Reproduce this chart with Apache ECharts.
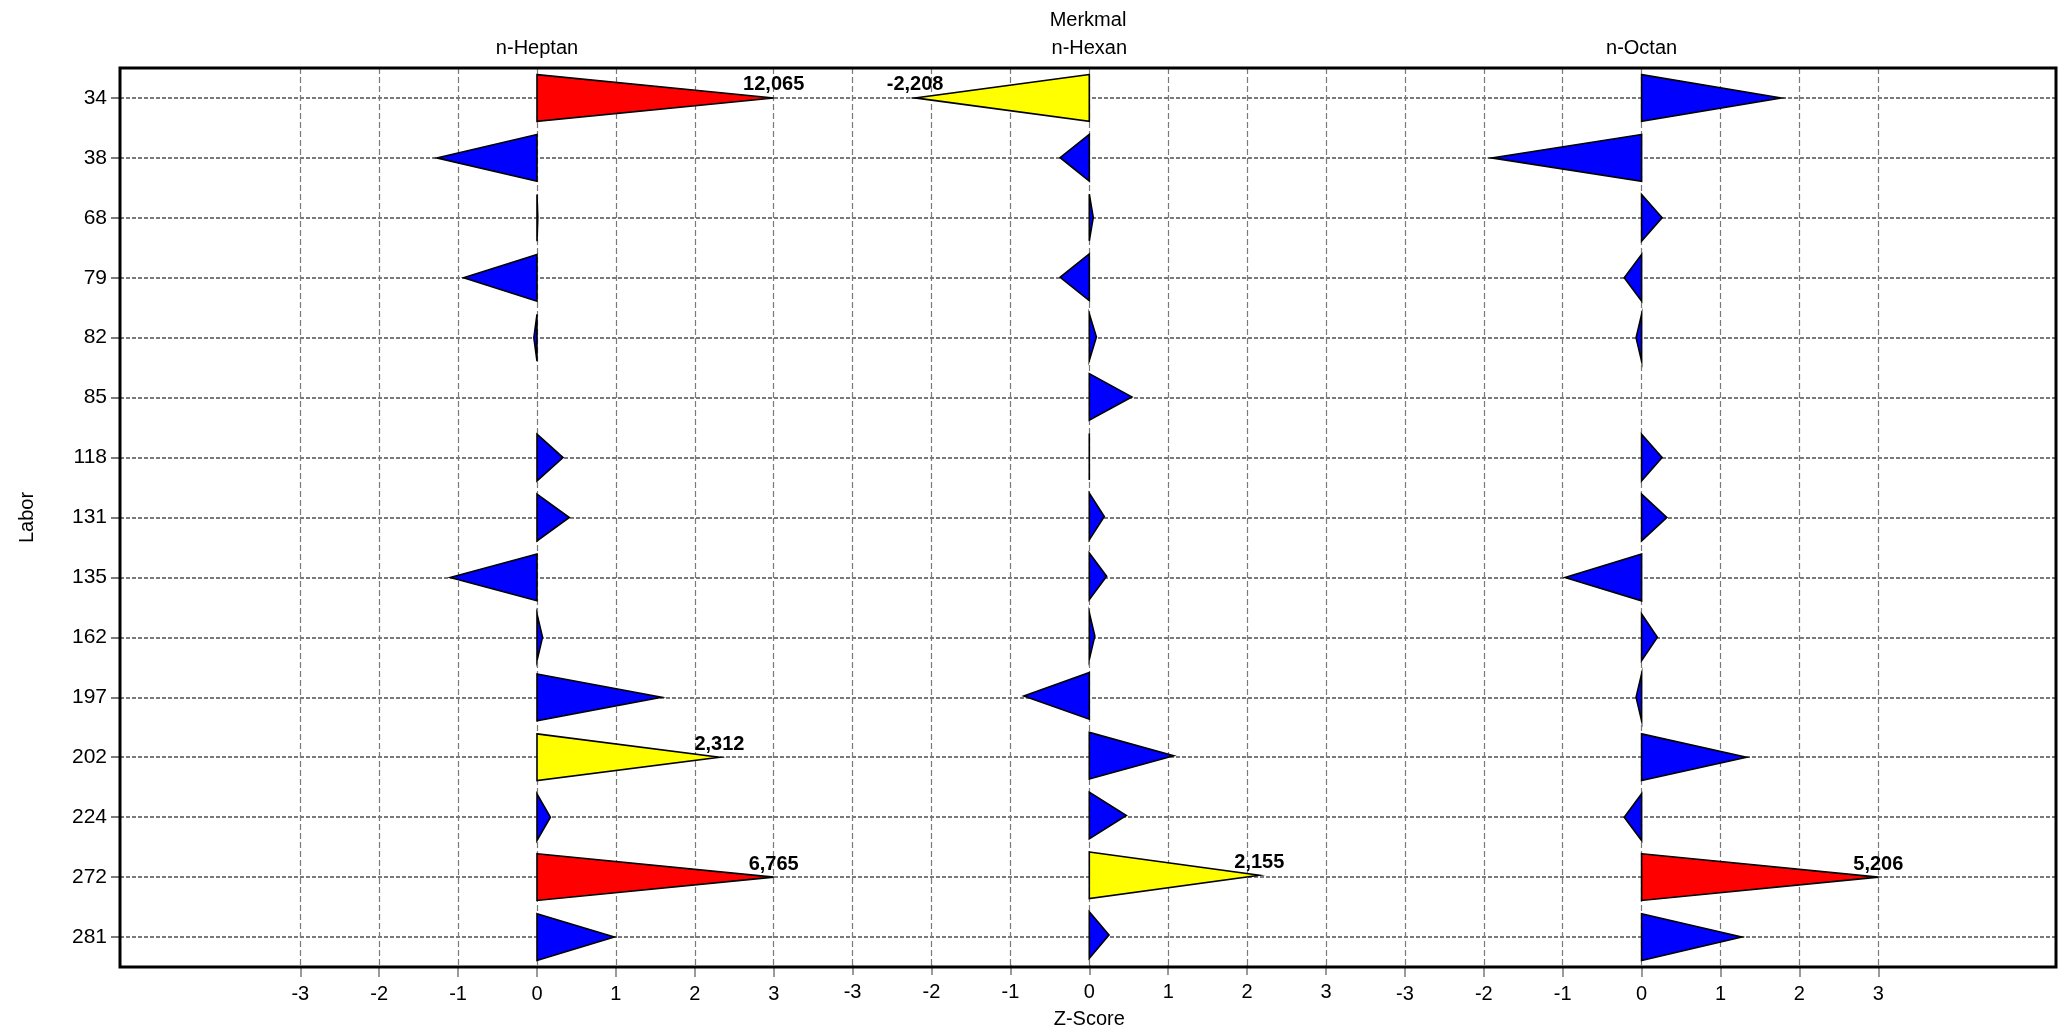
<!DOCTYPE html>
<html>
<head>
<meta charset="utf-8">
<script src="https://cdn.jsdelivr.net/npm/echarts@6/dist/echarts.min.js"></script>
<style>
html,body{margin:0;padding:0;background:#fff;}
#chart{width:2060px;height:1034px;}
</style>
</head>
<body>
<div id="chart"></div>
<script>
// ---- data ----
const categories = ['34','38','68','79','82','85','118','131','135','162','197','202','224','272','281'];
const features = ['n-Heptan','n-Hexan','n-Octan'];
const heptan = [12.065, -1.27, 0.01, -0.93, -0.04, null, 0.33, 0.41, -1.10, 0.07, 1.58, 2.312, 0.17, 6.765, 0.98];
const hexan  = [-2.208, -0.37, 0.05, -0.37, 0.09, 0.54, 0.00, 0.19, 0.22, 0.07, -0.83, 1.07, 0.47, 2.155, 0.25];
const octan  = [1.77, -1.90, 0.26, -0.22, -0.07, null, 0.26, 0.32, -0.97, 0.20, -0.07, 1.33, -0.22, 5.206, 1.27];
const seriesValues = [heptan, hexan, octan];
const xTicks = [-3, -2, -1, 0, 1, 2, 3];

const FONT = 'Liberation Sans, Arial, sans-serif';
const GRID_COLOR = '#7a7a7a';

const chart = echarts.init(document.getElementById('chart'));

// frame
const frame = {left: 120, top: 68, width: 1936, height: 899};
const unit = 78.9;
const zero0 = 537;
const panelStep = 7 * unit;

const grids = [{left: frame.left, top: frame.top, width: frame.width, height: frame.height,
  show: true, borderColor: '#000', borderWidth: 3, backgroundColor: 'transparent', z: 5}];
const xAxes = [{
  gridIndex: 0, type: 'value', min: 0, max: 1, position: 'top',
  name: 'Merkmal', nameLocation: 'middle', nameGap: 38,
  nameTextStyle: {fontFamily: FONT, fontSize: 20, color: '#000'},
  axisLine: {show: false}, axisTick: {show: false}, axisLabel: {show: false}, splitLine: {show: false}
}];
const yAxes = [{
  gridIndex: 0, type: 'category', data: categories, inverse: true,
  name: 'Labor', nameLocation: 'middle', nameGap: 83, nameRotate: 90,
  nameTextStyle: {fontFamily: FONT, fontSize: 20, color: '#000'},
  axisLine: {show: false},
  axisTick: {show: true, alignWithLabel: true, length: 9, lineStyle: {color: GRID_COLOR, width: 2}},
  axisLabel: {fontFamily: FONT, fontSize: 21, color: '#000', margin: 13},
  splitLine: {show: true, alignWithLabel: true, lineStyle: {color: GRID_COLOR, width: 2, type: [4, 2]}}
}];
const series = [];

features.forEach((f, k) => {
  const gi = k + 1;
  grids.push({left: zero0 + k * panelStep - 3 * unit, top: frame.top, width: 6 * unit, height: frame.height});
  // bottom value axis with ticks and grid lines
  xAxes.push({
    gridIndex: gi, type: 'value', min: xTicks[0], max: xTicks[xTicks.length - 1], interval: 1, position: 'bottom',
    name: k === 1 ? 'Z-Score' : '', nameLocation: 'middle', nameGap: 44,
    nameTextStyle: {fontFamily: FONT, fontSize: 20, color: '#000'},
    axisLine: {show: false},
    axisTick: {show: true, length: 10, lineStyle: {color: GRID_COLOR, width: 1.5}},
    axisLabel: {fontFamily: FONT, fontSize: 20, color: '#000', margin: 17},
    splitLine: {show: true, lineStyle: {color: GRID_COLOR, width: 1.2, type: [6, 3]}}
  });
  // top axis carrying the feature name
  xAxes.push({
    gridIndex: gi, type: 'value', min: xTicks[0], max: xTicks[xTicks.length - 1], position: 'top',
    name: f, nameLocation: 'middle', nameGap: 10,
    nameTextStyle: {fontFamily: FONT, fontSize: 20, color: '#000'},
    axisLine: {show: false}, axisTick: {show: false}, axisLabel: {show: false}, splitLine: {show: false}
  });
  yAxes.push({gridIndex: gi, type: 'category', data: categories, inverse: true, show: false});
  const data = [];
  seriesValues[k].forEach((v, i) => { if (v !== null) data.push([v, i]); });
  series.push({
    type: 'custom',
    xAxisIndex: xAxes.length - 2,
    yAxisIndex: yAxes.length - 1,
    data: data,
    z: 3,
    renderItem: function (params, api) {
      const v = api.value(0);
      const c = api.value(1);
      const capped = Math.max(-3, Math.min(3, v));
      const base = api.coord([0, c]);
      const tip = api.coord([capped, c]);
      const h = api.size([0, 1])[1] * 0.39;
      const a = Math.abs(v);
      const fill = a > 3 ? '#ff0000' : (a > 2 ? '#ffff00' : '#0000ff');
      const children = [{
        type: 'polygon',
        shape: {points: [[base[0], base[1] - h], [tip[0], tip[1]], [base[0], base[1] + h]]},
        style: {fill: fill, stroke: '#000', lineWidth: 1.6}
      }];
      if (a > 2) {
        children.push({
          type: 'text',
          style: {
            text: v.toFixed(3).replace('.', ','),
            x: tip[0], y: tip[1] - 3,
            align: 'center', verticalAlign: 'bottom',
            font: 'bold 20px ' + FONT, fill: '#000'
          }
        });
      }
      return {type: 'group', children: children};
    }
  });
});

chart.setOption({
  backgroundColor: '#fff',
  animation: false,
  grid: grids,
  xAxis: xAxes,
  yAxis: yAxes,
  series: series
});
</script>
</body>
</html>
